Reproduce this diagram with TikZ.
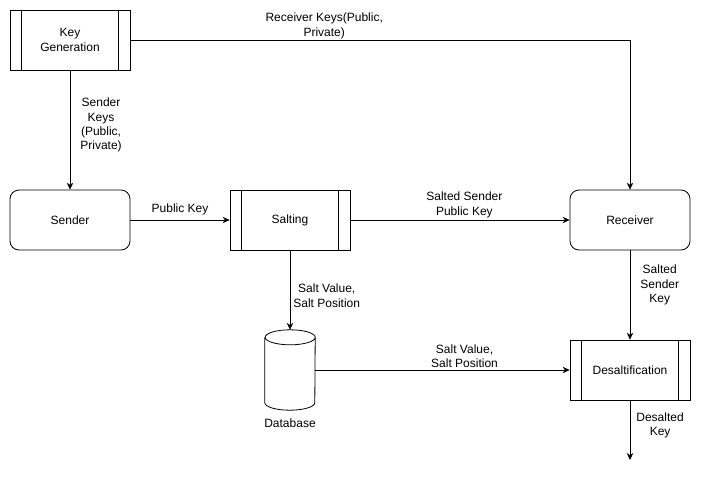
\documentclass[tikz,border=0pt]{standalone}
\usepackage{fontspec}
\setmainfont{Liberation Sans}
\usetikzlibrary{arrows.meta,positioning}
\tikzset{
    % Define style for process boxes
    procbox/.style={
           rectangle,
           draw=black, line width=0.8pt,
           minimum width=120pt, minimum height=60pt,
           inner sep=0pt,
           align=center},
    % Define style for rounded boxes
    roundbox/.style={
           procbox,
           rounded corners=9pt},
    % Define arrow style
    flow/.style={
           -{Stealth[length=7pt,width=6.5pt]},
           line width=0.8pt},
    % Define label style
    lab/.style={
           align=center,
           inner sep=1pt}
}
% process box with the two inner bars
\newcommand*{\pnode}[3]{\node[procbox] (#1) at #2 {#3};
  \draw[line width=0.8pt] ([xshift=12pt]#1.north west) -- ([xshift=12pt]#1.south west);
  \draw[line width=0.8pt] ([xshift=-12pt]#1.north east) -- ([xshift=-12pt]#1.south east);}

\begin{document}
\begin{tikzpicture}[x=1pt,y=-1pt,font=\fontsize{12}{14.4}\selectfont]
\useasboundingbox (0,0) rectangle (701,479);

% The boxes
\pnode{keygen}{(70,40)}{Key\\Generation}
\node[roundbox] (sender) at (70,220) {Sender};
\pnode{salting}{(290,220)}{Salting}
\node[roundbox] (receiver) at (630,220) {Receiver};
\pnode{desalt}{(630,370)}{Desaltification}
% the database: an empty node, with the cylinder drawn round it
\node[minimum width=50pt, minimum height=80pt, inner sep=0pt,
      label={[lab,label distance=7pt]below:Database}] (db) at (290,370) {};
\draw[line width=0.8pt] ([yshift=-7.5pt]db.north west) -- ([yshift=7.5pt]db.south west)
   arc[start angle=180, end angle=360, x radius=25pt, y radius=7.5pt]
   -- ([yshift=-7.5pt]db.north east)
   arc[start angle=0, end angle=360, x radius=25pt, y radius=7.5pt];
\coordinate (out) at (630,460);

% Now connect the nodes
\draw[flow] (keygen.east) -| node[lab, pos=0.194, above] {Receiver Keys(Public,\\Private)} (receiver.north);
\draw[flow] (keygen.south) -- node[lab, pos=0.46, right=9pt] {Sender\\Keys\\(Public,\\Private)} (sender.north);
\draw[flow] (sender.east) -- node[lab, above=4pt] {Public Key} (salting.west);
\draw[flow] (salting.east) -- node[lab, pos=0.52, above=1pt] {Salted Sender\\Public Key} (receiver.west);
\draw[flow] (salting.south) -- node[lab, pos=0.57, right=2pt] {Salt Value,\\Salt Position} (db.north);
\draw[flow] (db.east) -- node[lab, pos=0.587, above=1pt] {Salt Value,\\Salt Position} (desalt.west);
\draw[flow] (receiver.south) -- node[lab, pos=0.39, right=9pt] {Salted\\Sender\\Key} (desalt.north);
\draw[flow] (desalt.south) -- node[lab, pos=0.42, right=5pt] {Desalted\\Key} (out);
\end{tikzpicture}
\end{document}
